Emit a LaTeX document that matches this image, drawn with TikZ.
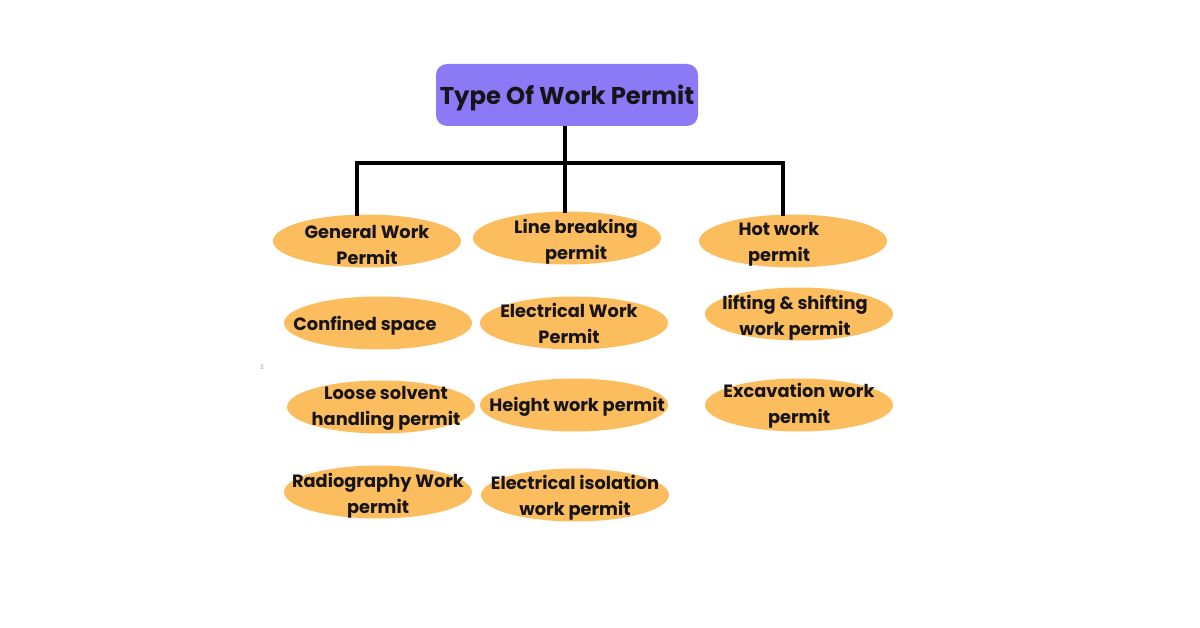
\documentclass[tikz,border=0pt]{standalone}
\usepackage{fontspec}
\setmainfont{Poppins}
\usetikzlibrary{shapes.geometric}
\definecolor{boxpurple}{RGB}{140,121,246}
\definecolor{ellorange}{RGB}{251,189,94}
\definecolor{txtdark}{RGB}{22,20,24}
\definecolor{strayblue}{RGB}{120,160,190}
\tikzset{
  x=1pt,y=-1pt,
  titlebox/.style={rectangle,rounded corners=11pt,fill=boxpurple,minimum width=262pt,minimum height=62pt,inner sep=0pt},
  permit/.style={ellipse,fill=ellorange,minimum width=188pt,minimum height=53pt,inner sep=0pt},
  ptext/.style={align=center,text=txtdark,font=\bfseries\fontsize{17.8}{26}\selectfont,inner sep=0pt},
  conn/.style={line width=4pt,black}
}
\begin{document}
\begin{tikzpicture}
\useasboundingbox[fill=white] (0,0) rectangle (1200,628);
% title
\node[titlebox] (title) at (567,95) {};
\node[align=center,text=txtdark,font=\bfseries\fontsize{24.3}{28}\selectfont,inner sep=0pt] (titlet) at (567,98) {Type Of Work Permit};
% ellipses
\node[permit] (gw) at (367,241) {};
\node[permit] (lb) at (567,238) {};
\node[permit] (hw) at (793,241) {};
\node[permit] (cs) at (378,323) {};
\node[permit] (ew) at (574,323) {};
\node[permit] (ls) at (799,314) {};
\node[permit] (lo) at (381,407) {};
\node[permit] (hg) at (574,405) {};
\node[permit] (ex) at (799,405) {};
\node[permit] (rd) at (378,492) {};
\node[permit] (ei) at (575,495) {};
% texts
\node[ptext] (gwt) at (367,244.5) {General Work\\Permit};
\node[ptext] (lbt) at (576,241.5) {Line breaking\\permit};
\node[ptext] (hwt) at (779,244.5) {Hot work\\permit};
\node[ptext] (cst) at (365,325.5) {Confined space};
\node[ptext] (ewt) at (569,323.5) {Electrical Work\\Permit};
\node[ptext] (lst) at (795,317.5) {lifting \& shifting\\work permit};
\node[ptext] (lot) at (386,408.5) {Loose solvent\\handling permit};
\node[ptext] (hgt) at (577,406.5) {Height work permit};
\node[ptext] (ext) at (799,405.5) {Excavation work\\permit};
\node[ptext] (rdt) at (378,495.5) {Radiography Work\\permit};
\node[ptext] (eit) at (575,497.5) {Electrical isolation\\work permit};
% stray mark
\node[text=strayblue,font=\fontsize{6}{6}\selectfont,inner sep=0pt] (stray) at (262,367) {3};
% connectors
\coordinate (junc) at (565,163);
\draw[conn] (title.south -| junc) -- ([yshift=-2pt]lb.north -| junc);
\draw[conn,line cap=rect] ([xshift=-10pt]gw.north) |- (junc) -| ([xshift=-10pt,yshift=0pt]hw.north);
\end{tikzpicture}
\end{document}
